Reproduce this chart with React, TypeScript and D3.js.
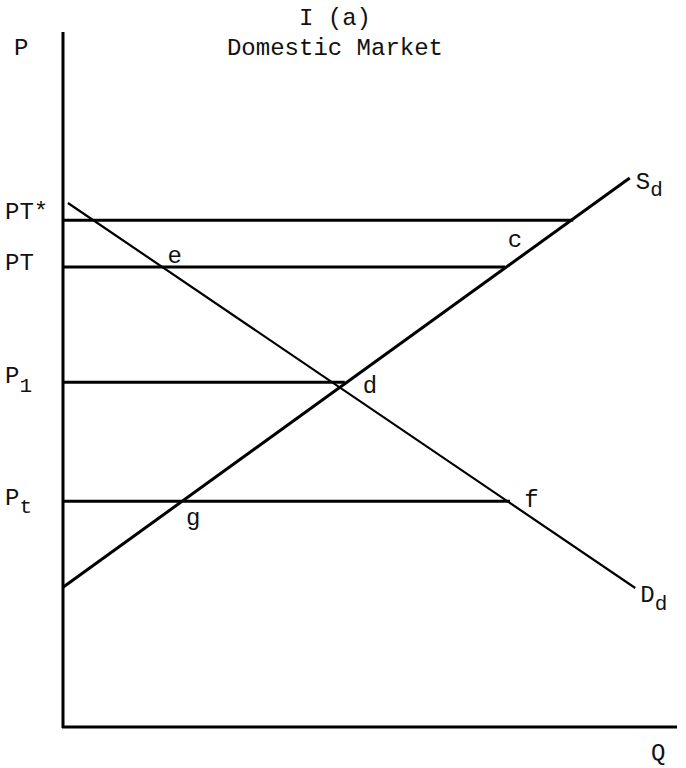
import React from "react";
import * as d3 from "d3";

// Data (in chart units: Q on x, P on y)
const supplyPoints: [number, number][] = [
  [0, 2.01],
  [9.23, 7.9],
];
const demandPoints: [number, number][] = [
  [0.08, 7.54],
  [9.32, 2.0],
];
const priceNames = ["PT*", "PT", "P1", "Pt"];
const priceLevels = [7.29, 6.62, 4.96, 3.25];
const priceLineEnds = [8.31, 7.2, 4.59, 7.28];
const pointNames = ["e", "c", "d", "f", "g"];
const pointQ = [1.82, 7.36, 5.0, 7.63, 2.12];
const pointP = [6.68, 6.9, 4.8, 3.17, 2.9];

const W = 686;
const H = 768;
const FONT = "'Liberation Mono', 'DejaVu Sans Mono', monospace";
const FS = 24;
const SUB = 21;

export default function App() {
  const x = d3.scaleLinear().domain([0, 10]).range([63, 677]);
  const y = d3.scaleLinear().domain([0, 10]).range([727, 32]);
  const line = d3
    .line<[number, number]>()
    .x((d) => x(d[0]))
    .y((d) => y(d[1]));

  return (
    <svg
      width={W}
      height={H}
      style={{ position: "absolute", left: 0, top: 0, background: "#fff" }}
      fontFamily={FONT}
    >
      <rect width={W} height={H} fill="#fff" />
      {/* Title */}
      <text x={335} y={25} fontSize={FS} textAnchor="middle" fill="#111">
        I (a)
      </text>
      <text x={335} y={55} fontSize={FS} textAnchor="middle" fill="#111">
        Domestic Market
      </text>
      {/* Axes */}
      <line x1={x(0)} y1={y(10)} x2={x(0)} y2={y(0) + 1} stroke="#000" strokeWidth={3} />
      <line x1={x(0) - 1} y1={y(0)} x2={x(10)} y2={y(0)} stroke="#000" strokeWidth={3} />
      <text x={14} y={55} fontSize={FS} fill="#111">P</text>
      <text x={651} y={760} fontSize={FS} fill="#111">Q</text>

      {/* Price lines */}
      {priceLevels.map((p, i) => (
        <line
          key={priceNames[i]}
          x1={x(0)}
          y1={y(p)}
          x2={x(priceLineEnds[i])}
          y2={y(p)}
          stroke="#000"
          strokeWidth={3}
        />
      ))}
      {/* Price labels */}
      <text x={5} y={y(priceLevels[0]) - 1} fontSize={FS} fill="#111">PT*</text>
      <text x={5} y={y(priceLevels[1]) + 3} fontSize={FS} fill="#111">PT</text>
      <text x={5} y={y(priceLevels[2]) + 1} fontSize={FS} fill="#111">
        P<tspan dy={9} fontSize={SUB}>1</tspan>
      </text>
      <text x={5} y={y(priceLevels[3]) + 4} fontSize={FS} fill="#111">
        P<tspan dy={8} fontSize={SUB}>t</tspan>
      </text>

      {/* Supply and demand */}
      <path d={line(supplyPoints) || ""} fill="none" stroke="#000" strokeWidth={3} />
      <path d={line(demandPoints) || ""} fill="none" stroke="#000" strokeWidth={2.2} />
      <text x={x(supplyPoints[1][0]) + 6} y={y(supplyPoints[1][1]) + 11} fontSize={FS} fill="#111">
        S<tspan dy={7} fontSize={SUB}>d</tspan>
      </text>
      <text x={x(demandPoints[1][0]) + 5} y={y(demandPoints[1][1]) + 14} fontSize={FS} fill="#111">
        D<tspan dy={8} fontSize={SUB}>d</tspan>
      </text>

      {/* Point labels */}
      {pointNames.map((n, i) => (
        <text
          key={n}
          x={x(pointQ[i])}
          y={y(pointP[i])}
          fontSize={FS}
          textAnchor="middle"
          fill="#111"
        >
          {n}
        </text>
      ))}
    </svg>
  );
}
